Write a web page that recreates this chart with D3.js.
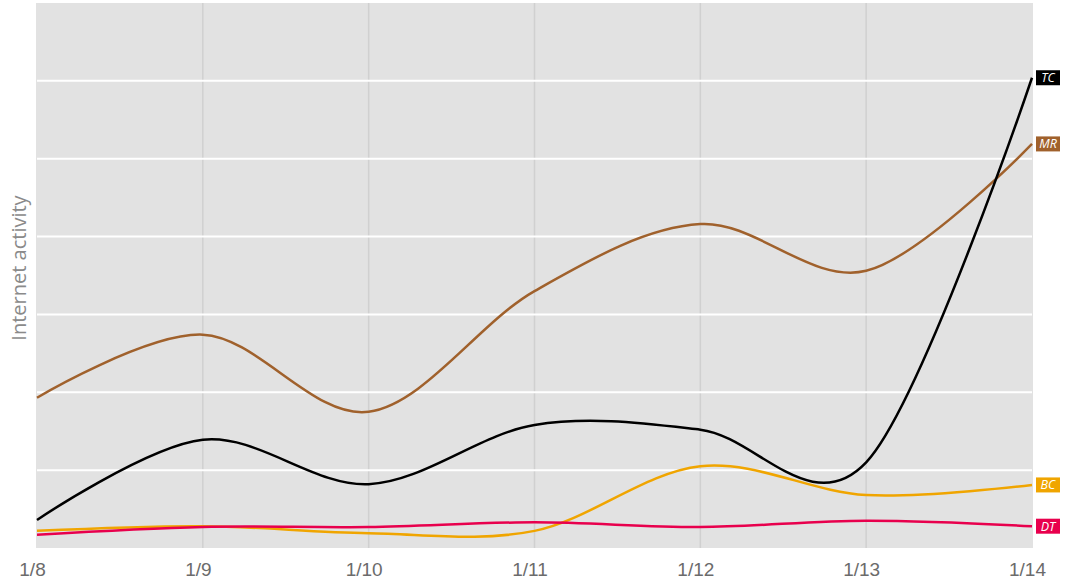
<!DOCTYPE html>
<html>
<head>
<meta charset="utf-8">
<script src="https://cdn.jsdelivr.net/npm/d3@7"></script>
<style>
  body { margin: 0; background: #fff; }
  svg { display: block; font-family: "Open Sans", "Noto Sans", sans-serif; }
  .axis text { fill: #6b6b6b; font-size: 19px; }
  .axis path, .axis line { display: none; }
  .y-title { fill: #8a8a8a; font-size: 20px; }
  .end-label text { fill: #fff; font-size: 12.5px; font-style: italic; }
</style>
</head>
<body>
<svg id="chart"></svg>
<script>
// Data
const dates = ['1/8', '1/9', '1/10', '1/11', '1/12', '1/13', '1/14'];
const seriesNames = ['MR', 'TC', 'BC', 'DT'];
const mrValues = [1.93, 2.74, 1.75, 3.30, 4.16, 3.56, 5.19];
const tcValues = [0.36, 1.39, 0.82, 1.58, 1.52, 1.10, 6.04];
const bcValues = [0.22, 0.28, 0.19, 0.22, 1.05, 0.68, 0.81];
const dtValues = [0.17, 0.27, 0.27, 0.33, 0.27, 0.35, 0.28];
const yTicks = [1, 2, 3, 4, 5, 6];

class LineChart {

  constructor(_config, _data) {
    this.config = {
      parentElement: _config.parentElement,
      containerWidth: _config.containerWidth || 1068,
      containerHeight: _config.containerHeight || 582,
      margin: _config.margin || {top: 3, right: 35, bottom: 34, left: 36}
    }
    this.data = _data;
    this.initVis();
  }

  initVis() {
    let vis = this;

    vis.width = vis.config.containerWidth - vis.config.margin.left - vis.config.margin.right;
    vis.height = vis.config.containerHeight - vis.config.margin.top - vis.config.margin.bottom;

    vis.xScale = d3.scalePoint()
      .domain(dates)
      .range([1, vis.width - 1]);

    vis.yScale = d3.scaleLinear()
      .domain([0, 7])
      .range([vis.height, 0]);

    vis.colorScale = d3.scaleOrdinal()
      .domain(seriesNames)
      .range(['#a0612c', '#000000', '#f0a500', '#e8004d']);

    vis.svg = d3.select(vis.config.parentElement)
      .attr('width', vis.config.containerWidth)
      .attr('height', vis.config.containerHeight);

    vis.chart = vis.svg.append('g')
      .attr('transform', `translate(${vis.config.margin.left},${vis.config.margin.top})`);

    // grey panel
    vis.chart.append('rect')
      .attr('width', vis.width)
      .attr('height', vis.height)
      .attr('fill', '#e2e2e2');

    // vertical grid
    vis.chart.append('g')
      .selectAll('line')
      .data(dates.slice(1, -1))
      .join('line')
      .attr('x1', d => vis.xScale(d))
      .attr('x2', d => vis.xScale(d))
      .attr('y1', 0)
      .attr('y2', vis.height)
      .attr('stroke', '#d0d0d0')
      .attr('stroke-width', 1.5);

    // horizontal grid
    vis.chart.append('g')
      .selectAll('line')
      .data(yTicks)
      .join('line')
      .attr('x1', 1)
      .attr('x2', vis.width - 1)
      .attr('y1', d => vis.yScale(d))
      .attr('y2', d => vis.yScale(d))
      .attr('stroke', '#fff')
      .attr('stroke-width', 2);

    vis.xAxis = d3.axisBottom(vis.xScale)
      .tickSize(0)
      .tickPadding(15);

    vis.xAxisG = vis.chart.append('g')
      .attr('class', 'axis x-axis')
      .attr('transform', `translate(0,${vis.height})`);

    vis.svg.append('text')
      .attr('class', 'y-title')
      .attr('text-anchor', 'middle')
      .attr('transform', `translate(26,268) rotate(-90)`)
      .text('Internet activity');

    vis.line = d3.line()
      .x((d, i) => vis.xScale(dates[i]))
      .y(d => vis.yScale(d))
      .curve(d3.curveCatmullRom.alpha(0));
  }

  renderVis() {
    let vis = this;

    vis.xAxisG.call(vis.xAxis);
    // labels sit a touch left of their ticks in the original
    vis.xAxisG.selectAll('text').attr('dx', -5);

    vis.chart.selectAll('.series')
      .data(vis.data)
      .join('path')
      .attr('class', 'series')
      .attr('fill', 'none')
      .attr('stroke', d => vis.colorScale(d.name))
      .attr('stroke-width', 2.5)
      .attr('d', d => vis.line(d.values));

    // end labels
    let labels = vis.chart.selectAll('.end-label')
      .data(vis.data)
      .join('g')
      .attr('class', 'end-label')
      .attr('transform', d => `translate(${vis.width + 3},${vis.yScale(d.values[d.values.length - 1])})`);

    labels.append('rect')
      .attr('x', 0)
      .attr('y', -7.5)
      .attr('width', 24)
      .attr('height', 15)
      .attr('fill', d => vis.colorScale(d.name));

    labels.append('text')
      .attr('x', 12)
      .attr('dy', '0.36em')
      .attr('text-anchor', 'middle')
      .text(d => d.name);
  }
}

const chart = new LineChart({ parentElement: '#chart' }, [
  { name: 'MR', values: mrValues },
  { name: 'TC', values: tcValues },
  { name: 'BC', values: bcValues },
  { name: 'DT', values: dtValues }
]);
chart.renderVis();
</script>
</body>
</html>
